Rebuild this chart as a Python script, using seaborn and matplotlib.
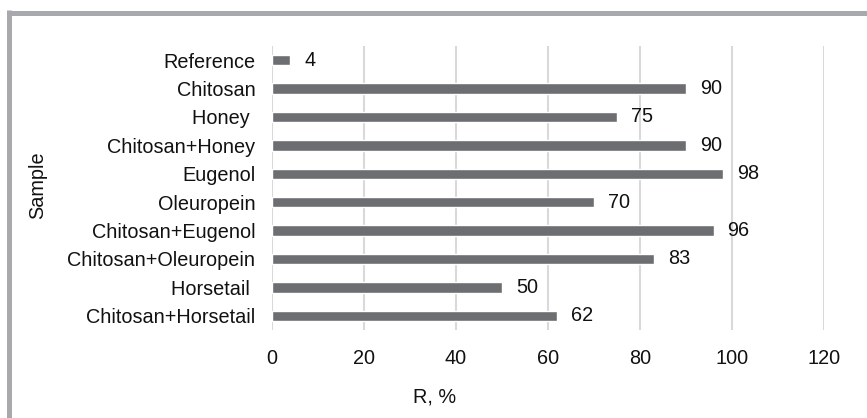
import matplotlib
matplotlib.use("Agg")
import matplotlib.pyplot as plt
import seaborn as sns
import pandas as pd
from matplotlib.lines import Line2D

samples = ["Reference", "Chitosan", "Honey ", "Chitosan+Honey", "Eugenol",
           "Oleuropein", "Chitosan+Eugenol", "Chitosan+Oleuropein",
           "Horsetail ", "Chitosan+Horsetail"]
r_values = [4, 90, 75, 90, 98, 70, 96, 83, 50, 62]
x_ticks = [0, 20, 40, 60, 80, 100, 120]

sns.set_theme(style="white")
plt.rcParams['font.family'] = ['Liberation Sans', 'DejaVu Sans']

FS = 14.3
TXT = "#111111"

df = pd.DataFrame({"Sample": samples, "R": r_values})

fig = plt.figure(figsize=(8.67, 4.18), dpi=100)
ax = fig.add_axes([272/867, 1-330/418, (824-272)/867, (330-46)/418])

sns.barplot(data=df, x="R", y="Sample", orient="h", color="#6d6e71",
            saturation=1, width=0.36, ax=ax, zorder=3)
for c in ax.containers:
    ax.bar_label(c, padding=10, fontsize=FS, color=TXT)

ax.set_xlim(0, 120)
ax.set_ylim(len(samples)-0.5, -0.5)
ax.set_xticks(x_ticks)
ax.set_xticklabels([str(t) for t in x_ticks])
ax.grid(axis="x", color="#d9d9d9", linewidth=1.5, zorder=0)
ax.grid(axis="y", visible=False)
for s in ax.spines.values():
    s.set_visible(False)
ax.tick_params(axis="both", length=0, labelsize=FS, colors=TXT)
ax.tick_params(axis="y", pad=12)
ax.tick_params(axis="x", pad=14)
ax.set_xlabel("")
ax.set_ylabel("")

fig.text(435/867, 1-397/418, "R, %", ha="center", va="center", fontsize=FS, color=TXT)
fig.text(38/867, 1-185/418, "Sample", ha="center", va="center", rotation=90, fontsize=FS, color=TXT)

# outer frame (top and left)
fig.add_artist(Line2D([7/867, 1], [1-12.5/418, 1-12.5/418], transform=fig.transFigure,
                      color="#a7a9ac", linewidth=3.6, solid_capstyle="butt"))
fig.add_artist(Line2D([9/867, 9/867], [0, 1-10/418], transform=fig.transFigure,
                      color="#a7a9ac", linewidth=3.6, solid_capstyle="butt"))

fig.savefig("out.png", dpi=100)
